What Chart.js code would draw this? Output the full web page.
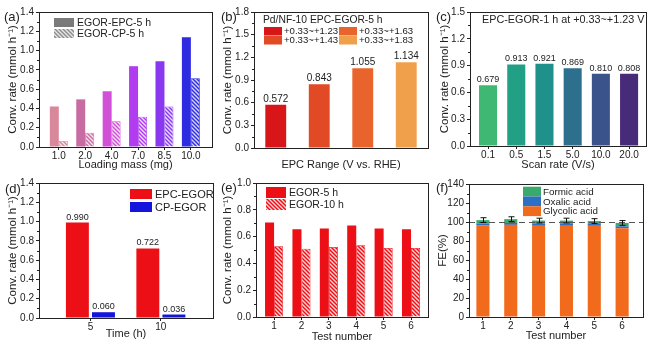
<!DOCTYPE html>
<html>
<head>
<meta charset="utf-8">
<script src="https://cdn.jsdelivr.net/npm/chart.js@4"></script>
<style>
html, body { margin: 0; padding: 0; background: #fff; }
#wrap { position: relative; width: 657px; height: 344px; overflow: hidden; }
canvas { position: absolute; }
</style>
</head>
<body>
<div id="wrap">
  <canvas id="ca" width="218" height="172" style="left:0;top:0"></canvas>
  <canvas id="cb" width="218" height="172" style="left:218px;top:0"></canvas>
  <canvas id="cc" width="221" height="172" style="left:436px;top:0"></canvas>
  <canvas id="cd" width="218" height="172" style="left:0;top:172px"></canvas>
  <canvas id="ce" width="218" height="172" style="left:218px;top:172px"></canvas>
  <canvas id="cf" width="221" height="172" style="left:436px;top:172px"></canvas>
</div>
<script>
// (a) loading mass
const loadingMass = ['1.0', '2.0', '4.0', '7.0', '8.5', '10.0'];
const epc5h = [0.42, 0.494, 0.578, 0.838, 0.888, 1.137];
const cp5h = [0.062, 0.148, 0.266, 0.314, 0.42, 0.714];

// (b) EPC range
const epcRanges = ['+0.33~+1.23', '+0.33~+1.43', '+0.33~+1.63', '+0.33~+1.83'];
const epcRangeRate = [0.572, 0.843, 1.055, 1.134];

// (c) scan rate
const scanRates = ['0.1', '0.5', '1.5', '5.0', '10.0', '20.0'];
const scanRateConv = [0.679, 0.913, 0.921, 0.869, 0.810, 0.808];

// (d) time
const times = [5, 10];
const epcEgor = [0.990, 0.722];
const cpEgor = [0.060, 0.036];

// (e) test number
const testNumbers = [1, 2, 3, 4, 5, 6];
const egor5h = [0.705, 0.655, 0.66, 0.683, 0.66, 0.655];
const egor10h = [0.528, 0.51, 0.523, 0.535, 0.515, 0.515];

// (f) faradaic efficiency
const glycolicFE = [96.5, 97, 96, 96, 96, 93.5];
const oxalicFE = [2, 2, 2, 2, 2, 2];
const formicFE = [3.5, 4, 3.5, 3.5, 3, 3.5];
const feError = [2.5, 2.5, 2.5, 2.5, 2.5, 2.5];

const FONT = "'Liberation Sans', Arial, Helvetica, sans-serif";
const INK = '#222';
Chart.defaults.font.family = FONT;
Chart.defaults.color = INK;
Chart.defaults.animation = false;

const massColors = ['#d9879b', '#c86ba3', '#d24fd8', '#b23cf0', '#8a38f0', '#2f2be0'];
const rangeColors = ['#d8161a', '#e24a26', '#e8642c', '#f0a04a'];
const scanColors = ['#3fb874', '#22a085', '#20908a', '#2c708e', '#3a538b', '#472a78'];
const RED = '#ec1016';
const BLUE = '#1414dc';

// diagonal "\" hatch on a base colour
function hatch(base) {
    const c = document.createElement('canvas');
    c.width = c.height = 4;
    const g = c.getContext('2d');
    g.fillStyle = base;
    g.fillRect(0, 0, 4, 4);
    g.strokeStyle = 'rgba(255,255,255,0.8)';
    g.lineWidth = 1.4;
    g.beginPath();
    g.moveTo(-1, -1); g.lineTo(5, 5);
    g.moveTo(-1, 3); g.lineTo(1, 5);
    g.moveTo(3, -1); g.lineTo(5, 1);
    g.stroke();
    return g.createPattern(c, 'repeat');
}

const pts = (vals) => vals.map((v, i) => ({ x: i, y: v }));

// frame, minor ticks, panel letter, in-plot legend, value labels, error bars, reference line
const extrasPlugin = {
    id: 'extras',
    afterDatasetsDraw(chart) {
        const ex = chart.options.plugins.extras || {};
        const { ctx, chartArea: a } = chart;
        const y = chart.scales.y;
        ctx.save();
        if (ex.refLine != null) {
            const py = Math.round(y.getPixelForValue(ex.refLine)) + 0.5;
            ctx.strokeStyle = '#555';
            ctx.lineWidth = 1;
            ctx.setLineDash([6, 4]);
            ctx.beginPath(); ctx.moveTo(a.left, py); ctx.lineTo(a.right, py); ctx.stroke();
            ctx.setLineDash([]);
        }
        if (ex.errors) {
            const meta = chart.getDatasetMeta(ex.errors.top);
            ctx.strokeStyle = '#111';
            ctx.lineWidth = 1;
            ex.errors.totals.forEach((t, i) => {
                const bx = Math.round(meta.data[i].x) + 0.5;
                const y1 = y.getPixelForValue(t + ex.errors.err[i]);
                const y2 = y.getPixelForValue(t - ex.errors.err[i]);
                ctx.beginPath();
                ctx.moveTo(bx, y1); ctx.lineTo(bx, y2);
                ctx.moveTo(bx - 3, y1); ctx.lineTo(bx + 3, y1);
                ctx.moveTo(bx - 3, y2); ctx.lineTo(bx + 3, y2);
                ctx.stroke();
            });
        }
        if (ex.valueLabels) {
            ctx.fillStyle = INK;
            ctx.font = (ex.valueSize || 9) + 'px ' + FONT;
            ctx.textAlign = 'center';
            ctx.textBaseline = 'bottom';
            ex.valueLabels.forEach(di => {
                const ds = chart.data.datasets[di];
                chart.getDatasetMeta(di).data.forEach((el, i) => {
                    const v = ds.data[i];
                    const val = typeof v === 'object' ? v.y : v;
                    ctx.fillText(val.toFixed(3), el.x, el.y - 1);
                });
            });
        }
        ctx.restore();
    },
    afterDraw(chart) {
        const ex = chart.options.plugins.extras || {};
        const { ctx, chartArea: a } = chart;
        const y = chart.scales.y;
        ctx.save();
        ctx.strokeStyle = INK;
        ctx.lineWidth = 1;
        ctx.strokeRect(Math.round(a.left) + 0.5, Math.round(a.top) + 0.5,
            Math.round(a.right - a.left), Math.round(a.bottom - a.top));
        // minor ticks halfway between the major y ticks
        ctx.beginPath();
        for (let i = 0; i < y.ticks.length - 1; i++) {
            const py = Math.round((y.getPixelForTick(i) + y.getPixelForTick(i + 1)) / 2) + 0.5;
            ctx.moveTo(a.left, py); ctx.lineTo(a.left - 2, py);
        }
        ctx.stroke();
        ctx.textAlign = 'left';
        ctx.textBaseline = 'middle';
        ctx.fillStyle = INK;
        if (ex.letter) {
            ctx.font = '13px ' + FONT;
            ctx.fillText(ex.letter.text, ex.letter.x, ex.letter.y);
        }
        if (ex.note) {
            ctx.font = ex.note.size + 'px ' + FONT;
            ctx.fillText(ex.note.text, ex.note.x, ex.note.y);
        }
        const lg = ex.legend;
        if (lg) {
            if (lg.title) {
                ctx.font = lg.title.size + 'px ' + FONT;
                ctx.fillStyle = INK;
                ctx.fillText(lg.title.text, lg.title.x, lg.title.y);
            }
            ctx.font = lg.size + 'px ' + FONT;
            const rows = lg.rows || lg.items.length;
            lg.items.forEach((it, i) => {
                const col = Math.floor(i / rows), row = i % rows;
                const bx = lg.x + col * (lg.colW || 0);
                const by = lg.y + row * lg.rowH;
                ctx.fillStyle = it.fill;
                ctx.fillRect(bx, by, lg.bw, lg.bh);
                ctx.fillStyle = INK;
                ctx.fillText(it.text, bx + lg.bw + lg.gap, by + lg.bh / 2 + 0.5);
            });
        }
        ctx.restore();
    },
};
Chart.register(extrasPlugin);

function yAxis(o) {
    return {
        min: o.min, max: o.max, stacked: !!o.stacked,
        afterFit: s => { s.width = o.width; },
        ticks: {
            stepSize: o.step, padding: 2, font: { size: 10 }, color: INK,
            callback: v => Number(v).toFixed(o.dec),
        },
        grid: { drawOnChartArea: false, tickLength: 3, tickColor: INK },
        border: { color: INK, width: 1 },
        title: { display: true, text: o.title, font: { size: 11.5 }, color: INK, padding: { top: o.tpad, bottom: 0 } },
    };
}

function xIndexAxis(o) {
    return {
        type: 'linear', offset: false, min: o.min, max: o.max, stacked: !!o.stacked,
        afterFit: s => { s.height = o.height; },
        afterBuildTicks: s => { s.ticks = o.pos.map(v => ({ value: v })); },
        ticks: {
            padding: 0, font: { size: 10 }, color: INK, autoSkip: false, maxRotation: 0,
            callback: (v, i) => o.labels[i],
        },
        grid: { drawOnChartArea: false, tickLength: 3, tickColor: INK, offset: false },
        border: { color: INK, width: 1 },
        title: { display: true, text: o.title, font: { size: 11 }, color: INK, padding: { top: 0, bottom: o.tpad } },
    };
}

function opts(pad, scales, extras) {
    return {
        responsive: false,
        animation: false,
        layout: { padding: { top: pad.top, right: pad.right, left: 0, bottom: 0 } },
        plugins: { legend: { display: false }, tooltip: { enabled: false }, extras },
        scales,
    };
}

const Y_TITLE = 'Conv. rate (mmol h\u207B\u00B9)';
const idx6 = [0, 1, 2, 3, 4, 5];

// (a)
new Chart(document.getElementById('ca'), {
    type: 'bar',
    data: {
        datasets: [
            { data: pts(epc5h), backgroundColor: massColors, categoryPercentage: 0.68, barPercentage: 1 },
            { data: pts(cp5h), backgroundColor: massColors.map(hatch), borderColor: massColors, borderWidth: 0.8,
              categoryPercentage: 0.68, barPercentage: 1 },
        ],
    },
    options: opts({ top: 12, right: 6 }, {
        x: xIndexAxis({ min: -0.75, max: 5.8, pos: idx6, labels: loadingMass, height: 25, title: 'Loading mass (mg)', tpad: 0 }),
        y: yAxis({ min: 0, max: 1.4, step: 0.2, dec: 1, width: 39, title: Y_TITLE, tpad: 5.7 }),
    }, {
        letter: { text: '(a)', x: 4, y: 17 },
        legend: { x: 54, y: 18, bw: 20, bh: 9, rowH: 11, gap: 3, size: 10.5,
            items: [{ text: 'EGOR-EPC-5 h', fill: '#7a7a7a' }, { text: 'EGOR-CP-5 h', fill: hatch('#8a8a8a') }] },
    }),
});

// (b)
new Chart(document.getElementById('cb'), {
    type: 'bar',
    data: {
        labels: epcRanges,
        datasets: [{ data: epcRangeRate, backgroundColor: rangeColors, categoryPercentage: 1, barPercentage: 0.48 }],
    },
    options: opts({ top: 12, right: 8 }, {
        x: {
            afterFit: s => { s.height = 24; },
            ticks: { display: false },
            grid: { display: false },
            border: { color: INK, width: 1 },
            title: { display: true, text: 'EPC Range (V vs. RHE)', font: { size: 11 }, color: INK, padding: { top: 0, bottom: 0 } },
        },
        y: yAxis({ min: 0, max: 1.8, step: 0.3, dec: 1, width: 36, title: Y_TITLE, tpad: 3.1 }),
    }, {
        letter: { text: '(b)', x: 3, y: 17 },
        valueLabels: [0],
        valueSize: 10,
        legend: {
            title: { text: 'Pd/NF-10 EPC-EGOR-5 h', x: 45, y: 20, size: 10.3 },
            x: 46, y: 27, bw: 18, bh: 8.5, rowH: 9, colW: 75, rows: 2, gap: 2, size: 9.6,
            items: epcRanges.map((r, i) => ({ text: r, fill: rangeColors[i] })),
        },
    }),
});

// (c)
new Chart(document.getElementById('cc'), {
    type: 'bar',
    data: {
        datasets: [{ data: pts(scanRateConv), backgroundColor: scanColors, categoryPercentage: 1, barPercentage: 0.64 }],
    },
    options: opts({ top: 12, right: 11 }, {
        x: xIndexAxis({ min: -0.64, max: 5.6, pos: idx6, labels: scanRates, height: 26, title: 'Scan rate (V/s)', tpad: 0 }),
        y: yAxis({ min: 0, max: 1.5, step: 0.3, dec: 1, width: 34, title: Y_TITLE, tpad: 2.2 }),
    }, {
        letter: { text: '(c)', x: 0, y: 17 },
        valueLabels: [0],
        valueSize: 9,
        note: { text: 'EPC-EGOR-1 h at +0.33~+1.23 V', x: 46, y: 20, size: 10.8 },
    }),
});

// (d)
new Chart(document.getElementById('cd'), {
    type: 'bar',
    data: {
        datasets: [
            { data: times.map((t, i) => ({ x: t, y: epcEgor[i] })), backgroundColor: RED, categoryPercentage: 0.74, barPercentage: 0.88 },
            { data: times.map((t, i) => ({ x: t, y: cpEgor[i] })), backgroundColor: BLUE, categoryPercentage: 0.74, barPercentage: 0.88 },
        ],
    },
    options: opts({ top: 11, right: 5 }, {
        x: xIndexAxis({ min: 1.35, max: 13.7, pos: times, labels: times.map(String), height: 26, title: 'Time (h)', tpad: 3 }),
        y: yAxis({ min: 0, max: 1.4, step: 0.2, dec: 1, width: 39, title: Y_TITLE, tpad: 6.2 }),
    }, {
        letter: { text: '(d)', x: 5, y: 17 },
        valueLabels: [0, 1],
        valueSize: 9,
        legend: { x: 130, y: 17, bw: 22, bh: 10, rowH: 13, gap: 3, size: 11,
            items: [{ text: 'EPC-EGOR', fill: RED }, { text: 'CP-EGOR', fill: BLUE }] },
    }),
});

// (e)
new Chart(document.getElementById('ce'), {
    type: 'bar',
    data: {
        datasets: [
            { data: pts(egor5h), backgroundColor: RED, categoryPercentage: 0.66, barPercentage: 1 },
            { data: pts(egor10h), backgroundColor: hatch(RED), borderColor: RED, borderWidth: 0.8, categoryPercentage: 0.66, barPercentage: 1 },
        ],
    },
    options: opts({ top: 11, right: 8 }, {
        x: xIndexAxis({ min: -0.66, max: 5.62, pos: idx6, labels: testNumbers.map(String), height: 27, title: 'Test number', tpad: 0 }),
        y: yAxis({ min: 0, max: 1.0, step: 0.2, dec: 1, width: 38, title: Y_TITLE, tpad: 3.2 }),
    }, {
        letter: { text: '(e)', x: 3, y: 16 },
        legend: { x: 48, y: 15, bw: 20, bh: 11, rowH: 12, gap: 3, size: 10.5,
            items: [{ text: 'EGOR-5 h', fill: RED }, { text: 'EGOR-10 h', fill: hatch(RED) }] },
    }),
});

// (f)
const feColors = { glycolic: '#f26a1c', oxalic: '#2d6fc4', formic: '#3aaa6c' };
const feTotals = glycolicFE.map((g, i) => g + oxalicFE[i] + formicFE[i]);
new Chart(document.getElementById('cf'), {
    type: 'bar',
    data: {
        datasets: [
            { label: 'Glycolic acid', data: pts(glycolicFE), backgroundColor: feColors.glycolic, categoryPercentage: 1, barPercentage: 0.47 },
            { label: 'Oxalic acid', data: pts(oxalicFE), backgroundColor: feColors.oxalic, categoryPercentage: 1, barPercentage: 0.47 },
            { label: 'Formic acid', data: pts(formicFE), backgroundColor: feColors.formic, categoryPercentage: 1, barPercentage: 0.47 },
        ],
    },
    options: opts({ top: 12, right: 14 }, {
        x: xIndexAxis({ min: -0.5, max: 5.75, pos: idx6, labels: testNumbers.map(String), height: 27, title: 'Test number', tpad: 1, stacked: true }),
        y: yAxis({ min: 0, max: 140, step: 20, dec: 0, width: 33, title: 'FE(%)', tpad: 0, stacked: true }),
    }, {
        letter: { text: '(f)', x: 0, y: 16 },
        refLine: 100,
        errors: { top: 2, totals: feTotals, err: feError },
        legend: { x: 87, y: 14.7, bw: 18, bh: 9.8, rowH: 9.8, gap: 2, size: 9.8,
            items: [{ text: 'Formic acid', fill: feColors.formic }, { text: 'Oxalic acid', fill: feColors.oxalic },
                    { text: 'Glycolic acid', fill: feColors.glycolic }] },
    }),
});
</script>
</body>
</html>
